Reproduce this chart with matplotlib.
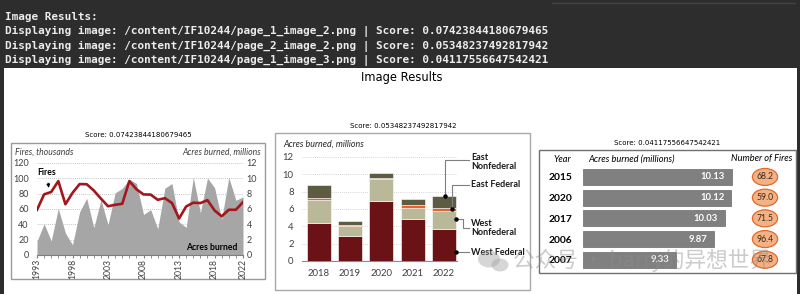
import numpy as np
import matplotlib.pyplot as plt
from matplotlib.patches import Rectangle, Ellipse

W, H = 800, 294

# --- header text
header_lines = [
    "Image Results:",
    "Displaying image: /content/IF10244/page_1_image_2.png | Score: 0.07423844180679465",
    "Displaying image: /content/IF10244/page_2_image_2.png | Score: 0.05348237492817942",
    "Displaying image: /content/IF10244/page_1_image_3.png | Score: 0.04117556647542421",
]
scores = ["Score: 0.07423844180679465", "Score: 0.05348237492817942",
          "Score: 0.04117556647542421"]

# --- chart 1: fires and acres burned, 1993-2022
years1 = np.arange(1993, 2023)
fires1 = [58.8, 79.1, 82.2, 96.4, 66.2, 81.0, 92.5, 92.3, 84.1, 73.5,
          63.6, 65.5, 66.8, 96.4, 85.7, 79.0, 78.8, 72.0, 74.1, 67.8,
          47.6, 63.3, 68.2, 67.7, 71.5, 58.1, 50.5, 59.0, 59.0, 69.0]
acres1 = [1.80, 4.07, 1.84, 6.07, 2.86, 1.33, 5.63, 7.39, 3.57, 7.18,
          3.96, 8.10, 8.69, 9.87, 9.33, 5.29, 5.92, 3.42, 8.71, 9.33,
          4.32, 3.60, 10.13, 5.51, 10.03, 8.77, 4.66, 10.12, 7.13, 7.58]
xticks1 = [1993, 1998, 2003, 2008, 2013, 2018, 2022]

# --- chart 2: stacked acres by region, 2018-2022
years2 = ["2018", "2019", "2020", "2021", "2022"]
west_fed = [4.44, 2.90, 6.95, 4.90, 3.64]
west_nonfed = [2.55, 1.15, 2.51, 1.23, 2.15]
east_fed = [0.23, 0.12, 0.15, 0.31, 0.30]
east_nonfed = [1.55, 0.49, 0.54, 0.69, 1.46]
series2 = ["West Federal", "West Nonfederal", "East Federal", "East Nonfederal"]
colors2 = ["#6b1216", "#b9b898", "#e8622a", "#5d5c43"]

# --- chart 3: top years table
years3 = ["2015", "2020", "2017", "2006", "2007"]
acres3 = [10.13, 10.12, 10.03, 9.87, 9.33]
fires3 = [68.2, 59.0, 71.5, 96.4, 67.8]

CH = "Lato"

fig = plt.figure(figsize=(W / 100, H / 100), dpi=100)
fig.patch.set_facecolor("#2d2d2d")


def px_axes(x0, y0, x1, y1, **kw):
    return fig.add_axes([x0 / W, 1 - y1 / H, (x1 - x0) / W, (y1 - y0) / H], **kw)


# overlay in pixel coordinates
bg = px_axes(0, 0, W, H)
bg.set_xlim(0, W)
bg.set_ylim(H, 0)
bg.axis("off")
bg.set_zorder(-5)
bg.add_patch(Rectangle((4, 68), 793, 230, facecolor="white", edgecolor="none"))
bg.plot([552, 795], [2.5, 2.5], color="#454545", lw=1)
for txt, y in zip(header_lines, [17, 31.5, 46, 60.5]):
    bg.text(5, y, txt, family="DejaVu Sans Mono", fontweight="bold",
            fontsize=7.9, color="#ececec", va="center")
bg.text(402, 78, "Image Results", fontsize=8.3, ha="center", va="center")
for s, (x, y) in zip(scores, [(138, 135), (403, 126), (667, 143)]):
    bg.text(x, y, s, fontsize=5, ha="center", va="center")

# image frames
bg.add_patch(Rectangle((11, 143), 254, 136, fill=False, edgecolor="#9a9a9a", lw=1))
bg.add_patch(Rectangle((275, 133), 255, 157, fill=False, edgecolor="#a8a8a8", lw=1))
bg.add_patch(Rectangle((539, 150), 257, 123, fill=False, edgecolor="#707070", lw=1))

# ---------------- chart 1
ax1 = px_axes(37, 163, 243, 255)
ax1b = ax1.twinx()
ax1.set_zorder(ax1b.get_zorder() + 1)
ax1.patch.set_visible(False)
ax1b.fill_between(years1, acres1, color="#a6a6a6", lw=0, zorder=2)
ax1b.set_ylim(0, 12)
ax1b.set_yticks(range(0, 13, 2))
ax1b.set_axisbelow(True)
ax1b.grid(axis="y", color="#b0b0b0", ls=(0, (1, 1.5)), lw=0.6)
ax1.plot(years1, fires1, color="#a3171c", lw=1.9, zorder=3)
ax1.set_xlim(1993, 2022)
ax1.set_ylim(0, 120)
ax1.set_yticks(range(0, 121, 20))
ax1.set_xticks(xticks1)
ax1.set_xticks(years1, minor=True)
for a in (ax1, ax1b):
    for sp in a.spines.values():
        sp.set_visible(False)
ax1.spines["bottom"].set_visible(True)
ax1.spines["bottom"].set_color("#7f7f7f")
ax1.tick_params(axis="y", length=0, pad=6, labelsize=6.5, labelcolor="#404040")
ax1b.tick_params(axis="y", length=0, pad=2.5, labelsize=6.5, labelcolor="#404040")
ax1.tick_params(axis="x", which="both", length=2, color="#7f7f7f",
                labelsize=6.2, labelcolor="#404040", rotation=90, pad=1)
for a in (ax1, ax1b):
    for lab in a.get_xticklabels() + a.get_yticklabels():
        lab.set_family(CH)
ax1.annotate("Fires", xy=(1994.7, 84), xytext=(1994.4, 107), ha="center",
             va="center", fontsize=6.2, fontweight="bold", family=CH,
             arrowprops=dict(arrowstyle="-|>", color="black", lw=0.7,
                             mutation_scale=5))
ax1.text(2017.6, 10, "Acres burned", ha="center", va="center", fontsize=6.2,
         fontweight="bold", family=CH)
bg.text(15, 152, "Fires, thousands", fontsize=6.2, style="italic", family=CH,
        color="#404040", va="center")
bg.text(261, 152, "Acres burned, millions", fontsize=6.2, style="italic",
        family=CH, color="#404040", va="center", ha="right")

# ---------------- chart 2
ax2 = px_axes(302, 157, 457, 261)
x2 = np.arange(len(years2))
bottom = np.zeros(len(years2))
for vals, col in zip([west_fed, west_nonfed, east_fed, east_nonfed], colors2):
    ax2.bar(x2, vals, bottom=bottom, width=0.77, color=col,
            edgecolor="white", lw=0.4, zorder=3)
    bottom += np.array(vals)
ax2.set_xlim(-0.54, 4.42)
ax2.set_ylim(0, 12)
ax2.set_yticks(range(0, 13, 2))
ax2.set_xticks(x2, years2)
ax2.grid(axis="y", color="#c8c8c8", ls=(0, (1, 1.5)), lw=0.6, zorder=0)
for sp in ax2.spines.values():
    sp.set_visible(False)
ax2.spines["bottom"].set_visible(True)
ax2.spines["bottom"].set_color("#8c8c8c")
ax2.tick_params(length=0, labelsize=6.9, labelcolor="#404040")
ax2.tick_params(axis="x", pad=6)
ax2.tick_params(axis="y", pad=6)
for lab in ax2.get_xticklabels() + ax2.get_yticklabels():
    lab.set_family(CH)
bg.text(283, 144, "Acres burned, millions", fontsize=6.4, style="italic",
        family=CH, color="#262626", va="center")

# callouts for the 2022 bar
callouts = [
    ([4.05, 4.05, 4.8], [7.5, 11.6, 11.6], "East\nNonfederal", 11.4),
    ([4.27, 4.27, 4.8], [5.97, 8.77, 8.77], "East Federal", 8.77),
    ([4.4, 4.6, 4.6, 4.8], [4.81, 4.81, 3.8, 3.8], "West\nNonfederal", 3.8),
    ([4.4, 4.8], [1.0, 1.0], "West Federal", 1.0),
]
for xs, ys, label, ty in callouts:
    ax2.plot(xs, ys, color="#7f7f7f", lw=0.8, clip_on=False, zorder=4)
    ax2.plot(xs[0], ys[0], "o", color="black", ms=2.2, clip_on=False, zorder=5)
    ax2.text(4.86, ty, label, fontsize=6.5, fontweight="bold", family=CH,
             va="center", ha="left", linespacing=1.05, color="#1a1a1a")

# ---------------- chart 3
ax3 = px_axes(583, 166.6, 793, 270.1)
y3 = np.arange(len(years3))
ax3.barh(y3, [v - 8 for v in acres3], left=8, height=0.77, color="#808080",
         edgecolor="#6a6a6a", lw=0.5)
for yi, v, f in zip(y3, acres3, fires3):
    ax3.text(v - 0.1, yi, f"{v:.2f}", color="white", fontweight="bold",
             fontsize=6.8, family=CH, ha="right", va="center")
    ax3.add_patch(Ellipse((10.6, yi), 0.36, 0.82, facecolor="#f4b183",
                          edgecolor="#e2682c", lw=0.9))
    ax3.text(10.6, yi, f"{f:.1f}", fontsize=6.2, family=CH, ha="center",
             va="center", color="#3b2a1f")
ax3.set_xlim(8, 11)
ax3.set_ylim(4.5, -0.5)
ax3.set_yticks(y3, years3)
ax3.set_xticks([])
for sp in ax3.spines.values():
    sp.set_visible(False)
ax3.patch.set_visible(False)
ax3.tick_params(axis="y", length=0, pad=7.5, labelsize=7.4)
for lab in ax3.get_yticklabels():
    lab.set_family(CH)
    lab.set_fontweight("bold")
bg.text(553, 159, "Year", fontsize=6.7, style="italic", family=CH, va="center")
bg.text(588, 159, "Acres burned (millions)", fontsize=6.7, style="italic",
        family=CH, va="center")
bg.text(792, 159, "Number of Fires", fontsize=6.7, style="italic",
        family=CH, va="center", ha="right")

# ---------------- watermark
wm = px_axes(0, 0, W, H)
wm.set_xlim(0, W)
wm.set_ylim(H, 0)
wm.axis("off")
wm.patch.set_visible(False)
wm.set_zorder(10)
wm.add_patch(Ellipse((489, 259), 22, 17, color="#9a9a9a", alpha=0.4, lw=0))
wm.add_patch(Ellipse((500, 265), 17, 13, color="#9a9a9a", alpha=0.4, lw=0))
wm.text(513, 260, "公众号 · barry的异想世界", fontsize=15.6, color="#8c8c8c",
        alpha=0.45, va="center", ha="left",
        family=["Noto Sans CJK SC", "DejaVu Sans"], fontweight="light")

fig.savefig("out.png", dpi=100, facecolor=fig.get_facecolor())
